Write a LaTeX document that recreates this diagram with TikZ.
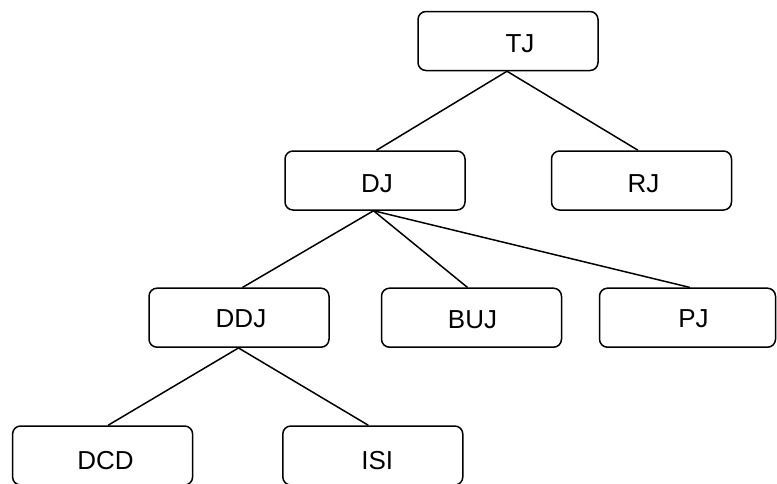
\documentclass[tikz,border=0pt]{standalone}
\usepackage{fontspec}
\setmainfont{Liberation Sans}
\newcommand\lowtext[2]{\raisebox{-#1}[18.6pt][0pt]{#2}}
\begin{document}
\begin{tikzpicture}[x=1pt,y=1pt,
  box/.style={draw=black,line width=1.5pt,rounded corners=8pt,minimum width=180pt,minimum height=59pt,inner sep=0pt,font=\fontsize{26}{28}\selectfont},
  link/.style={draw=black,line width=1.5pt}]
\useasboundingbox (0,0) rectangle (777,-483);
\node[box] (tj)  at (508,-41)    {\hspace*{24pt}\lowtext{2pt}{TJ}};
\node[box] (dj)  at (375,-180.5) {\hspace*{4pt}\lowtext{2.5pt}{DJ}};
\node[box] (rj)  at (641.5,-180.5) {\hspace*{4pt}\lowtext{2.5pt}{RJ}};
\node[box] (ddj) at (239,-317.7) {\hspace*{4pt}\lowtext{0pt}{DDJ}};
\node[box] (buj) at (471.5,-317.7) {\hspace*{2pt}\lowtext{1.5pt}{BUJ}};
\node[box,minimum width=176pt] (pj) at (687.5,-317.7) {\hspace*{12pt}\lowtext{0pt}{PJ}};
\node[box] (dcd) at (102.6,-455.5) {\hspace*{6pt}\lowtext{5pt}{DCD}};
\node[box] (isi) at (372.8,-455.5) {\hspace*{9pt}\lowtext{5pt}{ISI}};
\draw[link] ([xshift=-1pt]tj.south) -- ([xshift=1.5pt]dj.north);
\draw[link] ([xshift=-1pt]tj.south) -- ([xshift=-3.5pt]rj.north);
\draw[link] ([xshift=-1.5pt]dj.south) -- ([xshift=3.5pt]ddj.north);
\draw[link] ([xshift=-1.5pt]dj.south) -- ([xshift=-4pt]buj.north);
\draw[link] ([xshift=-1.5pt]dj.south) -- ([xshift=2.5pt]pj.north);
\draw[link] ([xshift=-0.5pt]ddj.south) -- ([xshift=5.5pt]dcd.north);
\draw[link] ([xshift=-0.5pt]ddj.south) -- ([xshift=-4.5pt]isi.north);
\end{tikzpicture}
\end{document}
